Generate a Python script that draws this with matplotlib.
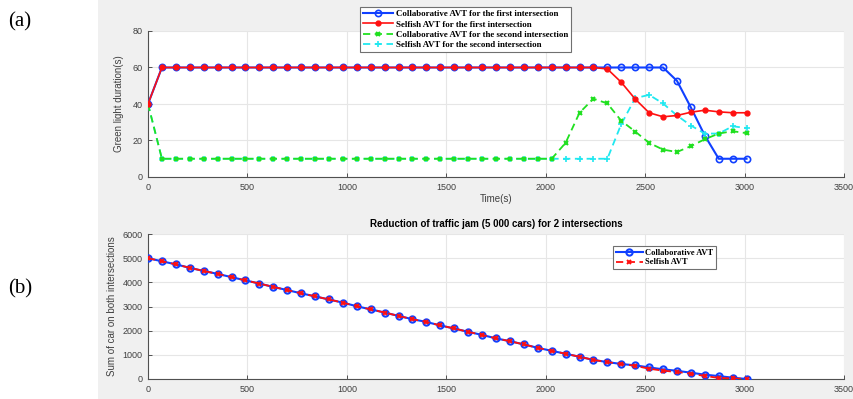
import numpy as np
import matplotlib.pyplot as plt
from matplotlib.patches import Rectangle

# time grid (s), one sample every 70 s
t = np.arange(0, 3011, 70)

# (a) green light duration (s)
collab_first = [40] + [60] * 37 + [52.7, 38.1, 22.7, 10, 10, 10]
selfish_first = [40] + [60] * 32 + [59.2, 51.9, 42.7, 35.2, 33.0, 33.7, 35.5,
                                    36.6, 35.7, 35.2, 35.2]
collab_second = [40] + [10] * 29 + [18.7, 35.2, 42.9, 40.3, 30.8, 24.9, 18.7,
                                    15.0, 13.7, 16.9, 20.7, 23.8, 25.1, 24.0]
selfish_second = [40] + [10] * 33 + [29.0, 43.2, 45.0, 40.3, 33.7, 28.2, 23.8,
                                     23.8, 27.8, 26.8]

# (b) sum of cars on both intersections
cars_collab = [5000, 4870, 4745, 4600, 4470, 4350, 4215, 4080, 3950, 3810,
               3680, 3545, 3420, 3290, 3160, 3010, 2880, 2750, 2610, 2475,
               2360, 2215, 2090, 1950, 1825, 1680, 1565, 1430, 1290, 1165,
               1045, 920, 790, 700, 620, 565, 480, 400, 340, 260,
               180, 120, 55, 0]
cars_selfish = cars_collab[:35] + [545, 425, 345, 290, 220, 125, 45, 25, 0]

fig = plt.figure(figsize=(8.54, 3.99), dpi=100)
fig.patch.set_facecolor('white')
fig.patches.append(Rectangle((98 / 854, 0), 1, 1, transform=fig.transFigure,
                             facecolor='#f0f0f0', edgecolor='none', zorder=-10))

tick_font = 'Liberation Sans'
axcol = '#505050'


def style(ax):
    ax.set_facecolor('white')
    ax.set_xlim(0, 3500)
    ax.set_xticks(range(0, 3501, 500))
    ax.grid(True, color='#e6e6e6', linewidth=0.8)
    ax.set_axisbelow(True)
    for s in ('top', 'right'):
        ax.spines[s].set_visible(False)
    for s in ('left', 'bottom'):
        ax.spines[s].set_color(axcol)
        ax.spines[s].set_linewidth(0.8)
    ax.tick_params(direction='in', length=3, width=0.7, colors=axcol,
                   labelsize=6.5, pad=4)
    for lab in ax.get_xticklabels() + ax.get_yticklabels():
        lab.set_fontfamily(tick_font)
        lab.set_color('#404040')


# ---- (a) ----
ax1 = fig.add_axes([148 / 854, 1 - 177 / 399, 696 / 854, 146 / 399])
ax1.set_ylim(0, 80)
ax1.set_yticks(range(0, 81, 20))
l1, = ax1.plot(t, collab_first, color='#1040ff', lw=1.5, marker='o', ms=4.5,
               mfc='none', mew=1.2, zorder=3, label='Collaborative AVT for the first intersection')
l2, = ax1.plot(t, selfish_first, color='#ff1010', lw=1.2, marker='.', ms=7,
               zorder=4, label='Selfish AVT for the first intersection')
l4, = ax1.plot(t, selfish_second, color='#20e8f0', lw=1.3, ls=(0, (4, 2.5)),
               marker='+', ms=5, mew=1.2, zorder=3,
               label='Selfish AVT for the second intersection')
l3, = ax1.plot(t, collab_second, color='#20e020', lw=1.3, ls=(0, (4, 2.5)),
               marker='x', ms=3.5, mew=1.5, zorder=3.5,
               label='Collaborative AVT for the second intersection')
style(ax1)
ax1.set_xlabel('Time(s)', fontsize=7, family=tick_font, color='#404040', labelpad=2)
ax1.set_ylabel('Green light duration(s)', fontsize=7, family=tick_font,
               color='#404040', labelpad=6)
leg1 = fig.legend([l1, l2, l3, l4], [l.get_label() for l in (l1, l2, l3, l4)],
                  loc='upper left', bbox_to_anchor=(356 / 854, 1 - 3 / 399),
                  prop={'family': 'Liberation Serif', 'weight': 'bold', 'size': 6.4},
                  handlelength=3.4, labelspacing=0.22, borderpad=0.3,
                  handletextpad=0.3, fancybox=False, framealpha=1,
                  edgecolor='#707070')
leg1.get_frame().set_linewidth(0.8)

# ---- (b) ----
ax2 = fig.add_axes([148 / 854, 1 - 379 / 399, 696 / 854, 145 / 399])
ax2.set_ylim(0, 6000)
ax2.set_yticks(range(0, 6001, 1000))
m1, = ax2.plot(t, cars_collab, color='#1040ff', lw=1.5, marker='o', ms=4.5,
               mfc='none', mew=1.5, zorder=3, label='Collaborative AVT')
m2, = ax2.plot(t, cars_selfish, color='#ff1010', lw=1.3, ls=(0, (4, 2.5)),
               marker='x', ms=3.5, mew=1.4, zorder=4, label='Selfish AVT')
style(ax2)
ax2.set_ylabel('Sum of car on both intersections', fontsize=7, family=tick_font,
               color='#404040', labelpad=4)
ax2.set_title('Reduction of traffic jam (5 000 cars) for 2 intersections',
              fontsize=7, family=tick_font, weight='bold', pad=5)
leg2 = fig.legend([m1, m2], ['Collaborative AVT', 'Selfish AVT'],
                  loc='upper left', bbox_to_anchor=(609 / 854, 1 - 242 / 399),
                  prop={'family': 'Liberation Serif', 'weight': 'bold', 'size': 6.1},
                  handlelength=3.2, labelspacing=0.2, borderpad=0.3,
                  handletextpad=0.3, fancybox=False, framealpha=1,
                  edgecolor='#707070')
leg2.get_frame().set_linewidth(0.8)

# panel labels
fig.text(8 / 854, 1 - 22 / 399, '(a)', fontsize=15, family='Liberation Serif',
         va='center', ha='left')
fig.text(8 / 854, 1 - 289 / 399, '(b)', fontsize=15, family='Liberation Serif',
         va='center', ha='left')

fig.savefig('out.png', dpi=100, facecolor=fig.get_facecolor())
